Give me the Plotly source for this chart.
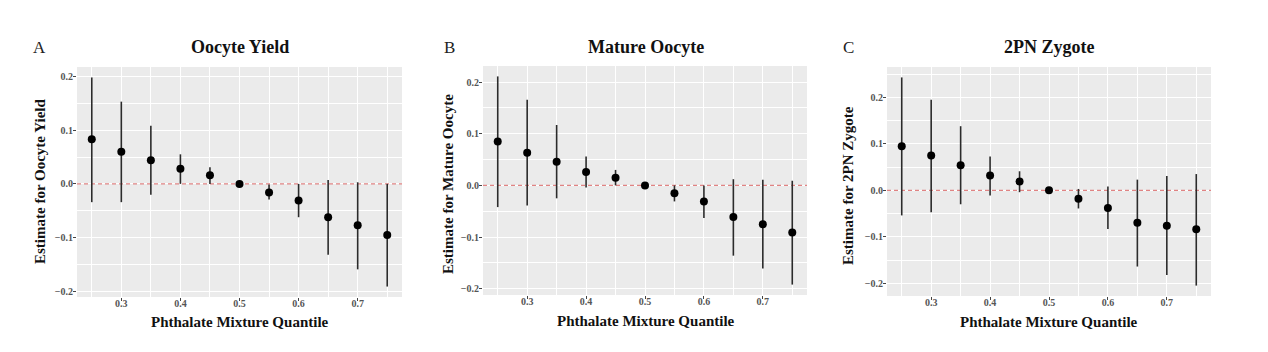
import plotly.graph_objects as go

quantiles = [0.25, 0.30, 0.35, 0.40, 0.45, 0.50, 0.55, 0.60, 0.65, 0.70, 0.75]

yield_est = [0.083, 0.060, 0.044, 0.028, 0.016, 0.0, -0.016, -0.031, -0.062, -0.077, -0.095]
yield_lo = [-0.034, -0.034, -0.020, 0.000, 0.000, 0.0, -0.029, -0.062, -0.132, -0.159, -0.191]
yield_hi = [0.198, 0.153, 0.108, 0.055, 0.031, 0.0, -0.001, 0.000, 0.007, 0.003, 0.000]

mature_est = [0.085, 0.063, 0.046, 0.026, 0.015, 0.0, -0.015, -0.031, -0.061, -0.075, -0.091]
mature_lo = [-0.042, -0.039, -0.025, -0.004, 0.000, 0.0, -0.031, -0.063, -0.136, -0.161, -0.192]
mature_hi = [0.211, 0.166, 0.117, 0.056, 0.030, 0.0, 0.000, 0.000, 0.012, 0.011, 0.009]

zyg_est = [0.095, 0.075, 0.054, 0.032, 0.019, 0.0, -0.018, -0.038, -0.070, -0.076, -0.084]
zyg_lo = [-0.054, -0.047, -0.030, -0.011, -0.004, 0.0, -0.039, -0.083, -0.164, -0.182, -0.205]
zyg_hi = [0.243, 0.195, 0.138, 0.073, 0.041, 0.0, 0.003, 0.008, 0.023, 0.031, 0.035]

panel_letters = ["A", "B", "C"]
titles = ["Oocyte Yield", "Mature Oocyte", "2PN Zygote"]
ytitles = ["Estimate for Oocyte Yield", "Estimate for Mature Oocyte", "Estimate for 2PN Zygote"]
xtitle = "Phthalate Mixture Quantile"
x_major = [0.3, 0.4, 0.5, 0.6, 0.7]
x_minor = [0.25, 0.35, 0.45, 0.55, 0.65, 0.75]

W, H = 1268, 352
SERIF = "Liberation Serif, Times New Roman, serif"

panels = [
    (yield_est, yield_lo, yield_hi),
    (mature_est, mature_lo, mature_hi),
    (zyg_est, zyg_lo, zyg_hi),
]

# plot-area boxes in pixels: left, right, top, bottom
boxes = [(77, 402, 67, 297), (483, 807, 66, 295), (887, 1211, 67, 296)]
letter_x = [39, 449, 849]
title_x = [240, 646, 1049]
ytitle_x = [40, 448, 848]
ytitle_y = [182, 184, 185]
xtitle_x = [240, 646, 1049]
xtitle_y = [322, 321, 322]

fig = go.Figure()
annotations = []

xpad = (max(quantiles) - min(quantiles)) * 0.05
xrange = [min(quantiles) - xpad, max(quantiles) + xpad]

for i, (est, lo, hi) in enumerate(panels):
    n = i + 1
    xa = "x" if n == 1 else f"x{n}"
    ya = "y" if n == 1 else f"y{n}"
    # reference line at zero, drawn first so it sits under the marks
    fig.add_trace(go.Scatter(
        x=xrange, y=[0, 0], mode="lines",
        line=dict(color="#e08383", width=1.1, dash="4px,3px"),
        xaxis=xa, yaxis=ya, showlegend=False, hoverinfo="skip",
    ))
    err_plus = [h - e for h, e in zip(hi, est)]
    err_minus = [e - l for e, l in zip(est, lo)]
    fig.add_trace(go.Scatter(
        x=quantiles, y=est, mode="markers",
        marker=dict(color="black", size=8),
        error_y=dict(type="data", symmetric=False, array=err_plus, arrayminus=err_minus,
                     width=0, thickness=1.6, color="#2b2b2b"),
        xaxis=xa, yaxis=ya, showlegend=False,
    ))
    ymin = min(lo + [0]); ymax = max(hi + [0])
    pad = (ymax - ymin) * 0.05
    l, r, t, b = boxes[i]
    axis_common = dict(
        showline=False, zeroline=False, gridcolor="white", gridwidth=1.1,
        ticks="outside", ticklen=3, tickwidth=1, tickcolor="#444",
        tickfont=dict(family=SERIF, size=10, color="#555", weight="bold"),
    )
    fig.update_layout(**{
        ("xaxis" if n == 1 else f"xaxis{n}"): dict(
            domain=[l / W, r / W], anchor=ya, range=xrange,
            tickmode="array", tickvals=x_major, ticktext=[f"{v:.1f}" for v in x_major],
            ticklabelstandoff=-6,
            minor=dict(tickmode="array", tickvals=x_minor, showgrid=True,
                       gridcolor="white", gridwidth=0.6, ticks=""),
            **axis_common),
        ("yaxis" if n == 1 else f"yaxis{n}"): dict(
            domain=[1 - b / H, 1 - t / H], anchor=xa, range=[ymin - pad, ymax + pad],
            dtick=0.1, tick0=0, tickformat=".1f", ticklabelstandoff=-2,
            minor=dict(dtick=0.05, tick0=0, showgrid=True, gridcolor="white",
                       gridwidth=0.6, ticks=""),
            **axis_common),
    })
    annotations += [
        dict(text=panel_letters[i], x=letter_x[i] / W, y=1 - 47 / H, xref="paper", yref="paper",
             showarrow=False, xanchor="center", yanchor="middle",
             font=dict(family=SERIF, size=17, color="#222")),
        dict(text=f"<b>{titles[i]}</b>", x=title_x[i] / W, y=1 - 47 / H, xref="paper", yref="paper",
             showarrow=False, xanchor="center", yanchor="middle",
             font=dict(family=SERIF, size=18, color="#111")),
        dict(text=f"<b>{ytitles[i]}</b>", x=ytitle_x[i] / W, y=1 - ytitle_y[i] / H, xref="paper",
             yref="paper", showarrow=False, textangle=-90, xanchor="center", yanchor="middle",
             font=dict(family=SERIF, size=15, color="#111")),
        dict(text=f"<b>{xtitle}</b>", x=xtitle_x[i] / W, y=1 - xtitle_y[i] / H, xref="paper",
             yref="paper", showarrow=False, xanchor="center", yanchor="middle",
             font=dict(family=SERIF, size=15, color="#111")),
    ]

fig.update_layout(
    width=W, height=H, margin=dict(l=0, r=0, t=0, b=0),
    paper_bgcolor="white", plot_bgcolor="#ebebeb",
    annotations=annotations,
)

fig.write_html("out.html")
